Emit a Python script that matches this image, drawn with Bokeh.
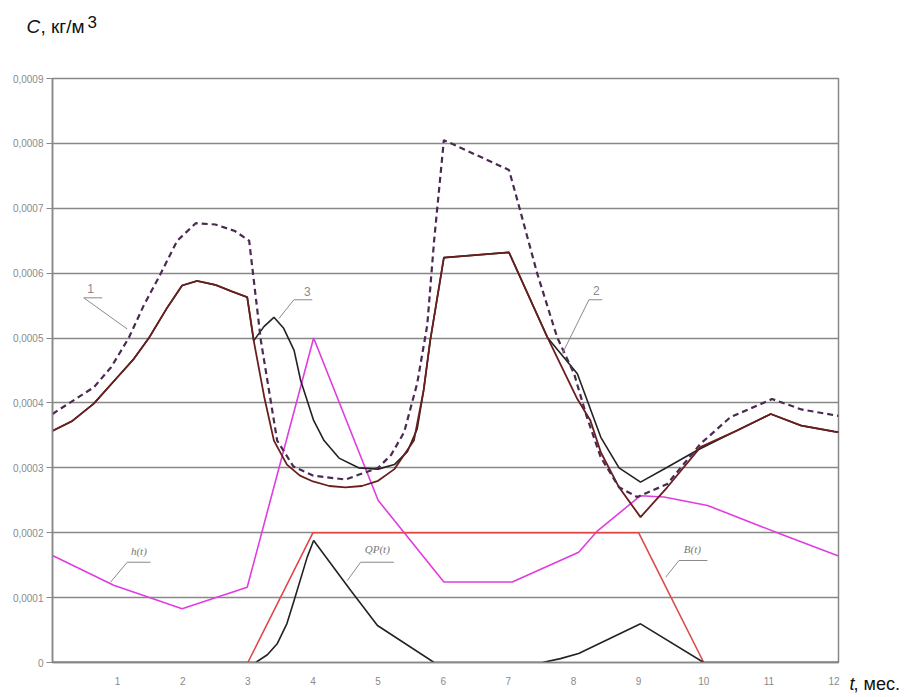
from bokeh.plotting import figure
from bokeh.models import Range1d, FixedTicker, CustomJSTickFormatter, Label
from bokeh.embed import file_html
from bokeh.resources import INLINE

# ---------------- data ----------------
months = [1, 2, 3, 4, 5, 6, 7, 8, 9, 10, 11, 12]
y_ticks = [0, 0.0001, 0.0002, 0.0003, 0.0004, 0.0005, 0.0006, 0.0007, 0.0008, 0.0009]
y_tick_labels = ["0", "0,0001", "0,0002", "0,0003", "0,0004", "0,0005",
                 "0,0006", "0,0007", "0,0008", "0,0009"]

# curve 1/2 solid (brown)
c_solid_t = [0.0, 0.3, 0.634, 1.0, 1.25, 1.48, 1.75, 1.99, 2.22, 2.5, 2.75, 2.99,
             3.09, 3.25, 3.4, 3.6, 3.8, 4.0, 4.25, 4.5, 4.75, 5.0, 5.25, 5.4, 5.55,
             5.7, 5.8, 6.01, 7.01, 7.6, 8.06, 8.26, 8.42, 8.7, 9.03, 9.44, 9.95,
             10.5, 11.03, 11.5, 12.0, 12.07]
c_solid_v = [0.000357, 0.000372, 0.000399, 0.00044, 0.000468, 0.0005, 0.000545, 0.000581,
             0.000588, 0.000582, 0.000572, 0.000563, 0.000496, 0.00041, 0.000342, 0.000305,
             0.000288, 0.000279, 0.000272, 0.00027, 0.000272, 0.00028, 0.000298, 0.00032,
             0.000342, 0.00042, 0.000496, 0.000624, 0.000632, 0.000501, 0.000406, 0.000373,
             0.000324, 0.00027, 0.000224, 0.00027, 0.000332, 0.000357, 0.000383, 0.000365,
             0.000356, 0.000355]

# curve 3 (black)
c3_t = [0.0, 0.3, 0.634, 1.0, 1.25, 1.48, 1.75, 1.99, 2.22, 2.5, 2.75, 2.99, 3.09,
        3.25, 3.4, 3.55, 3.71, 3.81, 4.01, 4.17, 4.4, 4.7, 5.0, 5.25, 5.45, 5.6, 5.7,
        5.8, 6.01, 7.01, 7.6, 8.06, 8.42, 8.7, 9.03, 9.44, 9.9, 10.0, 10.5, 11.03,
        11.5, 12.0, 12.07]
c3_v = [0.000357, 0.000372, 0.000399, 0.00044, 0.000468, 0.0005, 0.000545, 0.000581,
        0.000588, 0.000582, 0.000572, 0.000563, 0.000496, 0.000518, 0.000532, 0.000515,
        0.000481, 0.000435, 0.000373, 0.000342, 0.000315, 0.0003, 0.000298, 0.000305,
        0.000325, 0.00036, 0.00042, 0.000496, 0.000624, 0.000632, 0.000501, 0.000445,
        0.000347, 0.0003, 0.000278, 0.000301, 0.000327, 0.000332, 0.000357, 0.000383,
        0.000365, 0.000356, 0.000355]

# dashed curve
c_dash_t = [0.0, 0.12, 0.634, 0.9, 1.17, 1.4, 1.66, 1.915, 2.2, 2.5, 2.8, 3.02, 3.2,
            3.45, 3.7, 4.0, 4.5, 5.0, 5.2, 5.4, 5.6, 5.755, 5.86, 6.01, 7.01, 7.14,
            7.445, 7.75, 8.01, 8.2, 8.42, 8.7, 8.98, 9.44, 9.95, 10.41, 11.05, 11.5, 12.07]
c_dash_v = [0.000383, 0.000391, 0.000424, 0.000455, 0.0005, 0.00055, 0.000599, 0.00065,
            0.000677, 0.000675, 0.000665, 0.00065, 0.000496, 0.000342, 0.000302, 0.000288,
            0.000282, 0.0003, 0.00032, 0.000355, 0.00043, 0.00052, 0.00065, 0.000805,
            0.000759, 0.000712, 0.000599, 0.000501, 0.000445, 0.00038, 0.000316, 0.00027,
            0.000255, 0.000275, 0.000337, 0.000378, 0.000406, 0.00039, 0.00038]

# h(t) magenta
h_t = [0.0, 0.94, 1.99, 2.99, 4.01, 5.0, 6.01, 7.06, 8.08, 8.37, 9.03, 9.39, 10.06, 11.18, 12.07]
h_v = [0.000165, 0.000119, 0.0000827, 0.000116, 0.0005, 0.00025, 0.000124, 0.000124,
       0.00017, 0.000203, 0.000257, 0.000255, 0.000242, 0.000198, 0.000164]

# B(t) red
b_t = [0.0, 3.0, 4.0, 9.0, 10.0, 12.07]
b_v = [0.0, 0.0, 0.0002, 0.0002, 0.0, 0.0]

# QP(t) black
qp_t = [0.0, 3.12, 3.3, 3.45, 3.6, 3.71, 3.91, 4.01, 4.58, 4.99, 5.86, 7.52, 7.8, 8.08,
        9.03, 10.0, 12.07]
qp_v = [0.0, 0.0, 0.000012, 0.0000288, 0.00006, 0.0000955, 0.000162, 0.000188, 0.000111,
        0.000057, 0.0, 0.0, 0.000006, 0.000014, 0.0000596, 0.0, 0.0]

# callout labels: text, text position, underline start/end, leader end
callouts = [
    ("1",    0.584, 0.000576, 0.48, 0.763, 0.000562, 1.147, 0.000514, "sans"),
    ("3",    3.912, 0.000571, 3.707, 3.989, 0.000559, 3.476, 0.000530, "sans"),
    ("2",    8.352, 0.000573, 8.238, 8.443, 0.000559, 7.829, 0.000476, "sans"),
    ("h(t)", 1.326, 0.0001726, 1.147, 1.505, 0.0001545, 0.891, 0.0001237, "serif"),
    ("QP(t)", 4.988, 0.0001752, 4.731, 5.243, 0.0001545, 4.527, 0.0001263, "serif"),
    ("B(t)", 9.826, 0.0001752, 9.62, 10.057, 0.0001572, 9.416, 0.0001314, "serif"),
]

# axis-title pieces: text, side panel, x, y (pixels in that panel), size, italic
axis_titles = [
    ("C",      "above", -26, 52, "19px", True),
    (", кг/м", "above", -12, 31, "19px", False),
    ("3",      "above",  35, 15, "17px", False),
    ("t",      "right",  11, -21, "18px", True),
    (", мес.", "right",  10, -21, "18px", False),
]

# ---------------- figure ----------------
GRID = "#888888"
p = figure(width=908, height=697, output_backend="svg", toolbar_location=None,
           x_range=Range1d(0, 12.07), y_range=Range1d(0, 0.0009),
           min_border_left=52, min_border_right=70, min_border_top=78, min_border_bottom=35)
p.background_fill_color = "white"
p.border_fill_color = "white"
p.outline_line_color = GRID
p.outline_line_width = 1.5

p.xgrid.grid_line_color = None
p.ygrid.grid_line_color = GRID
p.ygrid.grid_line_width = 1.6

p.xaxis.ticker = FixedTicker(ticks=months)
p.yaxis.ticker = FixedTicker(ticks=y_ticks)
p.yaxis.formatter = CustomJSTickFormatter(args=dict(yt=y_ticks, yl=y_tick_labels), code="""
let best = 0, bd = Infinity;
for (let i = 0; i < yt.length; i++) { const d = Math.abs(yt[i] - tick); if (d < bd) { bd = d; best = i; } }
return yl[best];
""")

narrow = "Liberation Sans Narrow, Arial Narrow, Liberation Sans"
for ax in (p.xaxis[0], p.yaxis[0]):
    ax.axis_line_color = GRID
    ax.axis_line_width = 1.5
    ax.minor_tick_line_color = None
    ax.major_label_text_font = narrow
    ax.major_label_text_font_size = "10px"
    ax.major_label_text_color = "#8a8a8a"
p.yaxis.major_tick_line_color = GRID
p.yaxis.major_tick_out = 6
p.yaxis.major_tick_in = 0
p.yaxis.major_label_standoff = 3
p.xaxis.major_tick_line_color = None
p.xaxis.major_tick_out = 0
p.xaxis.major_tick_in = 0
p.xaxis.major_label_standoff = 14

# ---------------- curves ----------------
p.line(h_t, h_v, line_color="#e03ce0", line_width=1.6)
p.line(b_t, b_v, line_color="#e04848", line_width=1.6)
p.line(qp_t, qp_v, line_color="#222222", line_width=1.6)
p.line(c3_t, c3_v, line_color="#222222", line_width=1.6)
p.line(c_solid_t, c_solid_v, line_color="#6a1e1e", line_width=1.8)
p.line(c_dash_t, c_dash_v, line_color="#4a2a52", line_width=2.2, line_dash="6 4")

# ---------------- callouts ----------------
for txt, tx, ty, u0, u1, uy, lx, ly, kind in callouts:
    p.line([u0, u1], [uy, uy], line_color="#8a8a8a", line_width=1)
    p.line([u0, lx], [uy, ly], line_color="#8a8a8a", line_width=1)
    if kind == "sans":
        p.add_layout(Label(x=tx, y=ty, text=txt, text_align="center", text_baseline="middle",
                           text_font="Liberation Sans", text_font_size="12px",
                           text_color="#8a8a8a"))
    else:
        p.add_layout(Label(x=tx, y=ty, text=txt, text_align="center", text_baseline="middle",
                           text_font="Liberation Serif", text_font_style="italic",
                           text_font_size="11px", text_color="#777777"))

# ---------------- axis titles (in side panels, so they are not clipped to the frame) ----------------
for txt, side, tx, ty, size, italic in axis_titles:
    p.add_layout(Label(x=tx, y=ty, x_units="screen", y_units="screen", text=txt,
                       text_font="Liberation Sans",
                       text_font_style="italic" if italic else "normal",
                       text_font_size=size, text_color="#111111",
                       text_baseline="alphabetic", text_align="left"), side)

open("out.html", "w").write(file_html(p, INLINE))
